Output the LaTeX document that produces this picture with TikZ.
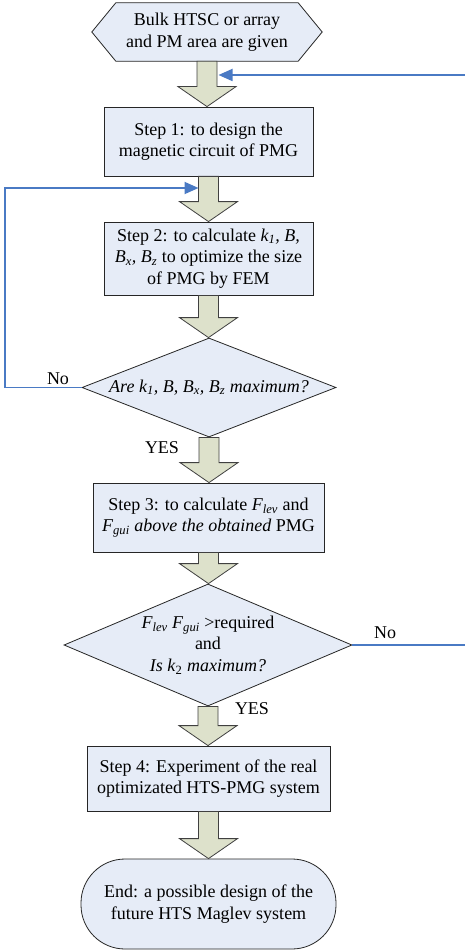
\documentclass[tikz,border=0pt]{standalone}
\usepackage{fontspec}
\setmainfont{Liberation Serif}
\usetikzlibrary{arrows.meta,shapes.geometric,calc,backgrounds}
\definecolor{boxfill}{HTML}{E6ECF7}
\definecolor{arrfill}{HTML}{DDE1CB}
\definecolor{loopblue}{HTML}{4A7AC4}
\newcommand\sbs[1]{\textsubscript{#1}}
\newcommand\blkarrow[2]{%
  \path let \p1=(#1.south), \p2=(#2.north) in
    [blk] ({\x1-10pt},{\y1}) -- ({\x1-10pt},{\y2+20pt}) -- ({\x1-29pt},{\y2+20pt})
      -- ({\x1},{\y2}) -- ({\x1+29pt},{\y2+20pt}) -- ({\x1+10pt},{\y2+20pt})
      -- ({\x1+10pt},{\y1}) -- cycle;}
\begin{document}
\begin{tikzpicture}[x=1pt,y=-1pt,
  every node/.style={font=\fontsize{18}{21.5}\selectfont, align=center, inner sep=0pt},
  stepbox/.style={draw=black!85, fill=boxfill, line width=0.8pt, rectangle},
  decision/.style={draw=black!85, fill=boxfill, line width=0.8pt, diamond, aspect=2.6},
  terminal/.style={draw=black!85, fill=boxfill, line width=0.8pt, rectangle, rounded corners=44pt},
  blk/.style={draw=black!75, fill=arrfill, line width=0.8pt},
  loopline/.style={draw=loopblue, line width=1.8pt, -{Triangle[length=14pt,width=12pt]}},
  lbl/.style={font=\fontsize{18}{21.5}\selectfont}]
\useasboundingbox (0,0) rectangle (464,952);

\node[minimum width=182, minimum height=58] (start) at (207,32)
  {Bulk HTSC or array\\and PM area are given};
\begin{scope}[on background layer]
\fill[white] (0,0) rectangle (464,952);
\path[draw=black!85, fill=boxfill, line width=0.8pt]
  ($(start.west)+(-24,0)$) -- (start.north west) -- (start.north east)
  -- ($(start.east)+(24,0)$) -- (start.south east) -- (start.south west) -- cycle;
\end{scope}

\node[stepbox, minimum width=209, minimum height=69] (s1) at (208.5,141.5)
  {Step 1: to design the\\magnetic circuit of PMG};
\node[stepbox, minimum width=209, minimum height=73] (s2) at (208.5,258.5)
  {Step 2: to calculate \textit{k\sbs{1}, B,}\\\textit{B\sbs{x}, B\sbs{z}} to optimize the size\\of PMG by FEM};
\node[decision, minimum width=254, minimum height=99] (d1) at (209,387.5)
  {\textit{Are k\sbs{1}, B, B\sbs{x}, B\sbs{z} maximum?}};
\node[stepbox, minimum width=231, minimum height=69] (s3) at (208.5,517.5)
  {Step 3: to calculate \textit{F\sbs{lev}} and\\\textit{F\sbs{gui} above the obtained} PMG};
\node[decision, minimum width=288, minimum height=122] (d2) at (208,645)
  {\textit{F\sbs{lev} F\sbs{gui}} >required\\and\\\textit{Is k}\sbs{2} \textit{maximum?}};
\node[stepbox, minimum width=243, minimum height=65] (s4) at (208.5,778.5)
  {Step 4: Experiment of the real\\optimizated HTS-PMG system};
\node[terminal, minimum width=255, minimum height=90] (end) at (208.5,904)
  {End: a possible design of the\\future HTS Maglev system};

\blkarrow{start}{s1}
\blkarrow{s1}{s2}
\blkarrow{s2}{d1}
\blkarrow{d1}{s3}
\blkarrow{s3}{d2}
\blkarrow{d2}{s4}
\blkarrow{s4}{end}

\coordinate (s2l) at (198.5,188);
\coordinate (s1r) at (218.5,75);
\draw[loopline] (d1.west) -- ++(-77,0) |- (s2l);
\draw[loopline] (d2.east) -- (466,645) |- (s1r);

\node[lbl] (no1) at (58,379) {No};
\node[lbl] (yes1) at (162,448) {YES};
\node[lbl] (no2) at (385,633) {No};
\node[lbl] (yes2) at (252,709) {YES};
\end{tikzpicture}
\end{document}
